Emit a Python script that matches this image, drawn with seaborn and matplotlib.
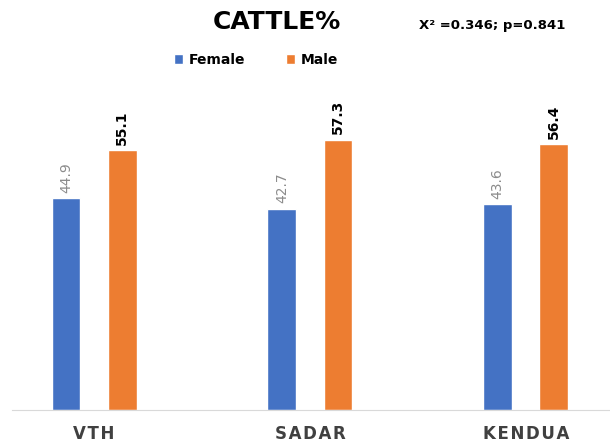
import matplotlib
matplotlib.use('Agg')
import matplotlib.pyplot as plt
import pandas as pd
import seaborn as sns

SITES = ['VTH', 'SADAR', 'KENDUA']
FEMALE = [44.9, 42.7, 43.6]
MALE = [55.1, 57.3, 56.4]
SEXES = ['Female', 'Male']
COLORS = {'Female': '#4472C4', 'Male': '#ED7D31'}

df = pd.DataFrame({
    'Site': SITES * 2,
    'Sex': ['Female'] * len(SITES) + ['Male'] * len(SITES),
    'Percent': FEMALE + MALE,
})

sns.set_style('white')
plt.rcParams['font.family'] = ['DejaVu Sans']
plt.rcParams['text.color'] = 'black'

fig = plt.figure(figsize=(6.1, 4.44), dpi=100)
ax = fig.add_axes([12 / 610, 34 / 444, 598 / 610, 330 / 444])

sns.barplot(df, x='Site', y='Percent', hue='Sex', hue_order=SEXES,
            palette=COLORS, width=0.52, gap=0.485, saturation=1, ax=ax)

for cont, sex in zip(ax.containers, SEXES):
    if sex == 'Female':
        ax.bar_label(cont, fmt='%.1f', rotation=90, padding=4, color='#8c8c8c',
                     fontsize=10)
    else:
        ax.bar_label(cont, fmt='%.1f', rotation=90, padding=4, color='black',
                     fontsize=10, fontweight='bold')

ax.set_xlim(-0.38, 2.39)
ax.set_ylim(0, 70)
ax.set_xlabel('')
ax.set_ylabel('')
ax.set_yticks([])
# letter-spaced category names, like the original
ax.set_xticks(range(len(SITES)))
ax.set_xticklabels(['\u200a'.join(s) for s in SITES])
ax.tick_params(axis='x', length=0, pad=11)
for lab in ax.get_xticklabels():
    lab.set_fontweight('bold')
    lab.set_fontsize(12)
    lab.set_color('#404040')
for s in ['top', 'right', 'left']:
    ax.spines[s].set_visible(False)
ax.spines['bottom'].set_color('#d9d9d9')

handles, labels = ax.get_legend_handles_labels()
ax.legend(handles, labels, loc='center', bbox_to_anchor=(256 / 610, 1 - 60 / 444),
          bbox_transform=fig.transFigure, ncol=2, frameon=False,
          handlelength=0.7, handleheight=0.7, handletextpad=0.4, columnspacing=2.9,
          prop={'weight': 'bold', 'size': 10})

fig.text(277 / 610, 1 - 22 / 444, 'CATTLE%', ha='center', va='center',
         fontsize=18, fontweight='bold', color='black')
fig.text(492 / 610, 1 - 25 / 444, 'X² =0.346; p=0.841', ha='center', va='center',
         fontsize=9.5, fontweight='bold', color='black')

fig.savefig('out.png', dpi=100)
